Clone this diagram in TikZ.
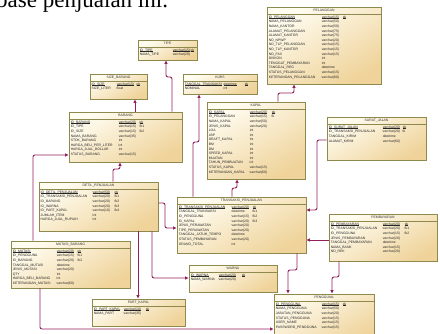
\documentclass[tikz,border=0pt]{standalone}
\usepackage{fontspec}
\setmainfont{Liberation Serif}
\newfontfamily\erfont{Liberation Sans}
\usetikzlibrary{arrows.meta,fit}
\definecolor{erborder}{HTML}{8E8A4E}
\definecolor{ertop}{HTML}{FFFCF0}
\definecolor{erbot}{HTML}{EFD39A}
\definecolor{connc}{HTML}{93205E}
\newlength\erA
\newlength\erB
\newcommand{\erul}[1]{\setbox0\hbox{#1}\rlap{\rule[-0.6pt]{\wd0}{0.45pt}}\box0}
\newcommand{\erw}[3]{\makebox[\erA][l]{#1}\makebox[\erB][l]{#2}#3}
\newcommand{\epk}[2]{\makebox[\erA][l]{\erul{#1}}\makebox[\erB][l]{\erul{#2}}\erul{pk}}
\tikzset{
 erbox/.style={draw=erborder, line width=0.9pt, top color=ertop, bottom color=erbot, shading angle=30, inner sep=0pt},
 erhdr/.style={font=\erfont\fontsize{3.4}{4}\selectfont, inner sep=0pt, text=black!80},
 errows/.style={font=\erfont\fontsize{3.4}{4.6}\selectfont, inner sep=0pt, anchor=north west, text=black!85},
 erline/.style={draw=erborder, line width=0.6pt},
 conn/.style={draw=connc, line width=0.9pt, rounded corners=2pt, -{Triangle[length=3.5pt,width=3pt]}},
}
% name, x1, y1, x2, y2, title, colA, colB, rows
\newcommand{\ertable}[9]{%
 \node[erbox, fit={(#2,#3) (#4,#5)}] (#1) {};
 \node[erhdr] (#1-h) at ([yshift=-4pt]#1.north) {#6};
 \draw[erline] ([yshift=-8pt]#1.north west) -- ([yshift=-8pt]#1.north east);
 \node[errows] (#1-r) at ([xshift=2pt,yshift=-8.3pt]#1.north west)
   {\setlength\erA{#7pt}\setlength\erB{#8pt}\begin{tabular}{@{}l@{}}#9\end{tabular}};
}
\begin{document}
\begin{tikzpicture}[x=1pt,y=-1pt]
\useasboundingbox (0,0) rectangle (440,333);
\clip (0,0) rectangle (440,333);

\node[font=\fontsize{23}{23}\selectfont, anchor=base west, inner sep=0pt] (title) at (-4,7) {base penjualan ini.};

\ertable{tipe}{138}{40}{197}{60}{TIPE}{33}{18}{%
 \epk{ID\_TIPE}{varchar(15)}\\
 \erw{NAMA\_TIPE}{varchar(20)}{}\\}

\ertable{size}{90}{74}{147}{99}{SIZE\_BARANG}{25}{20}{%
 \epk{ID\_SIZE}{varchar(15)}\\
 \erw{SIZE\_LITER}{float}{}\\}

\ertable{kurs}{183}{74}{257}{94}{KURS}{39}{21}{%
 \epk{TANGGAL\_TRANSAKSI}{datetime}\\
 \erw{NOMINAL}{int}{}\\}

\ertable{pel}{267}{7}{381}{84}{PELANGGAN}{53}{21}{%
 \epk{ID\_PELANGGAN}{varchar(15)}\\
 \erw{NAMA\_PELANGGAN}{varchar(50)}{}\\
 \erw{NAMA\_KANTOR}{varchar(50)}{}\\
 \erw{ALAMAT\_PELANGGAN}{varchar(75)}{}\\
 \erw{ALAMAT\_KANTOR}{varchar(75)}{}\\
 \erw{NO\_NPWP}{varchar(20)}{}\\
 \erw{NO\_TLP\_PELANGGAN}{varchar(15)}{}\\
 \erw{NO\_TLP\_KANTOR}{varchar(15)}{}\\
 \erw{NO\_FAX}{varchar(15)}{}\\
 \erw{DISKON}{int}{}\\
 \erw{TENGGAT\_PEMBAYARAN}{int}{}\\
 \erw{TANGGAL\_REG}{datetime}{}\\
 \erw{STATUS\_PELANGGAN}{varchar(15)}{}\\
 \erw{KETERANGAN\_PELANGGAN}{varchar(60)}{}\\}

\ertable{barang}{69}{112}{182}{162}{BARANG}{48}{21}{%
 \epk{ID\_BARANG}{varchar(20)}\\
 \erw{ID\_TIPE}{varchar(15)}{fk1}\\
 \erw{ID\_SIZE}{varchar(15)}{fk2}\\
 \erw{NAMA\_BARANG}{varchar(35)}{}\\
 \erw{STOK\_BARANG}{int}{}\\
 \erw{HARGA\_BELI\_PER\_LITER}{int}{}\\
 \erw{HARGA\_JUAL\_DOLLAR}{int}{}\\
 \erw{STATUS\_BARANG}{varchar(15)}{}\\}

\ertable{kapal}{207}{102}{305}{179}{KAPAL}{41}{22}{%
 \epk{ID\_KAPAL}{varchar(20)}\\
 \erw{ID\_PELANGGAN}{varchar(15)}{fk}\\
 \erw{NAMA\_KAPAL}{varchar(50)}{}\\
 \erw{JENIS\_KAPAL}{varchar(20)}{}\\
 \erw{LOA}{int}{}\\
 \erw{LBP}{int}{}\\
 \erw{DRAFT\_KAPAL}{int}{}\\
 \erw{BM}{int}{}\\
 \erw{DM}{int}{}\\
 \erw{SPEED\_KAPAL}{int}{}\\
 \erw{MUATAN}{int}{}\\
 \erw{TAHUN\_PEMBUATAN}{int}{}\\
 \erw{STATUS\_KAPAL}{varchar(15)}{}\\
 \erw{KETERANGAN\_KAPAL}{varchar(60)}{}\\}

\ertable{surat}{327}{117}{426}{160}{SURAT\_JALAN}{54}{20}{%
 \epk{ID\_SURAT\_JALAN}{varchar(20)}\\
 \erw{ID\_TRANSAKSI\_PENJUALAN}{varchar(20)}{fk}\\
 \erw{TANGGAL\_KIRIM}{datetime}{}\\
 \erw{ALAMAT\_KIRIM}{varchar(60)}{}\\}

\ertable{detil}{39}{182}{158}{231}{DETIL\_PENJUALAN}{52}{22}{%
 \epk{ID\_DETIL\_PENJUALAN}{varchar(50)}\\
 \erw{ID\_TRANSAKSI\_PENJUALAN}{varchar(20)}{fk1}\\
 \erw{ID\_BARANG}{varchar(20)}{fk2}\\
 \erw{ID\_WARNA}{varchar(20)}{fk3}\\
 \erw{ID\_PART\_KAPAL}{varchar(10)}{fk4}\\
 \erw{JUMLAH\_ITEM}{int}{}\\
 \erw{HARGA\_JUAL\_RUPIAH}{int}{}\\}

\ertable{mutasi}{11}{241}{130}{288}{MUTASI\_BARANG}{44}{21}{%
 \epk{ID\_MUTASI}{varchar(20)}\\
 \erw{ID\_PENGGUNA}{varchar(15)}{fk1}\\
 \erw{ID\_BARANG}{varchar(20)}{fk2}\\
 \erw{TANGGAL\_MUTASI}{datetime}{}\\
 \erw{JENIS\_MUTASI}{varchar(20)}{}\\
 \erw{QTY}{int}{}\\
 \erw{HARGA\_BELI\_BARANG}{int}{}\\
 \erw{KETERANGAN\_MUTASI}{varchar(60)}{}\\}

\ertable{trans}{177}{197}{306}{253}{TRANSAKSI\_PENJUALAN}{53}{21}{%
 \epk{ID\_TRANSAKSI\_PENJUALAN}{varchar(20)}\\
 \erw{TANGGAL\_TRANSAKSI}{datetime}{fk1}\\
 \erw{ID\_PENGGUNA}{varchar(15)}{fk2}\\
 \erw{ID\_KAPAL}{varchar(20)}{fk3}\\
 \erw{JENIS\_PERAWATAN}{varchar(20)}{}\\
 \erw{TIPE\_PERAWATAN}{varchar(20)}{}\\
 \erw{TANGGAL\_JATUH\_TEMPO}{datetime}{}\\
 \erw{STATUS\_PEMBAYARAN}{varchar(20)}{}\\
 \erw{GRAND\_TOTAL}{int}{}\\}

\ertable{warna}{189}{265}{277}{292}{WARNA}{28}{23}{%
 \epk{ID\_WARNA}{varchar(20)}\\
 \erw{NAMA\_WARNA}{varchar(20)}{}\\}

\ertable{part}{92}{299}{185}{326}{PART\_KAPAL}{30}{22}{%
 \epk{ID\_PART\_KAPAL}{varchar(10)}\\
 \erw{NAMA\_PART}{varchar(35)}{}\\}

\ertable{pemb}{329}{214}{437}{261}{PEMBAYARAN}{52}{22}{%
 \epk{ID\_PEMBAYARAN}{varchar(20)}\\
 \erw{ID\_TRANSAKSI\_PENJUALAN}{varchar(20)}{fk1}\\
 \erw{ID\_PENGGUNA}{varchar(15)}{fk2}\\
 \erw{JENIS\_PEMBAYARAN}{varchar(20)}{}\\
 \erw{TANGGAL\_PEMBAYARAN}{datetime}{}\\
 \erw{NAMA\_BANK}{varchar(15)}{}\\
 \erw{NO\_REK}{varchar(20)}{}\\}

\ertable{peng}{274}{294}{374}{345}{PENGGUNA}{46}{21}{%
 \epk{ID\_PENGGUNA}{varchar(15)}\\
 \erw{NAMA\_PENGGUNA}{varchar(50)}{}\\
 \erw{JABATAN\_PENGGUNA}{varchar(20)}{}\\
 \erw{STATUS\_PENGGUNA}{varchar(15)}{}\\
 \erw{USER\_NAME}{varchar(15)}{}\\
 \erw{PASSWORD\_PENGGUNA}{varchar(15)}{}\\}

% connectors (child -> parent)
\draw[conn] (135,0 |- barang.north) -- (135,0 |- size.south);
\draw[conn] (172,0 |- barang.north) -- (172,77) -- (166,77) -- (166,0 |- tipe.south);
\draw[conn] (193,0 |- trans.north) -- (193,142) -- (199,142) -- (199,0 |- kurs.south);
\draw[conn] (278,0 |- kapal.north) -- (278,93) -- (294,93) -- (294,0 |- pel.south);
\draw[conn] (232,0 |- trans.north) -- (232,188) -- (237,188) -- (237,0 |- kapal.south);
\draw[conn] (surat.west |- 0,140) -- (317,140) -- (317,210) -- (trans.east |- 0,210);
\draw[conn] (pemb.west |- 0,240) -- (trans.east |- 0,240);
\draw[conn] (339,0 |- pemb.south) -- (339,277) -- (332,277) -- (332,0 |- peng.north);
\draw[conn] (297,0 |- trans.south) -- (297,270) -- (288,270) -- (288,0 |- peng.north);
\draw[conn] (40,0 |- mutasi.south) -- (40,329) -- (peng.west |- 0,329);
\draw[conn] (113,0 |- detil.north) -- (113,169) -- (120,169) -- (120,0 |- barang.south);
\draw[conn] (33,0 |- mutasi.north) -- (33,155) -- (barang.west |- 0,155);
\draw[conn] (detil.east |- 0,203) -- (165,203) -- (165,228) -- (trans.west |- 0,228);
\draw[conn] (152,0 |- detil.south) -- (152,278) -- (warna.west |- 0,278);
\draw[conn] (138,0 |- detil.south) -- (138,0 |- part.north);
\end{tikzpicture}
\end{document}
